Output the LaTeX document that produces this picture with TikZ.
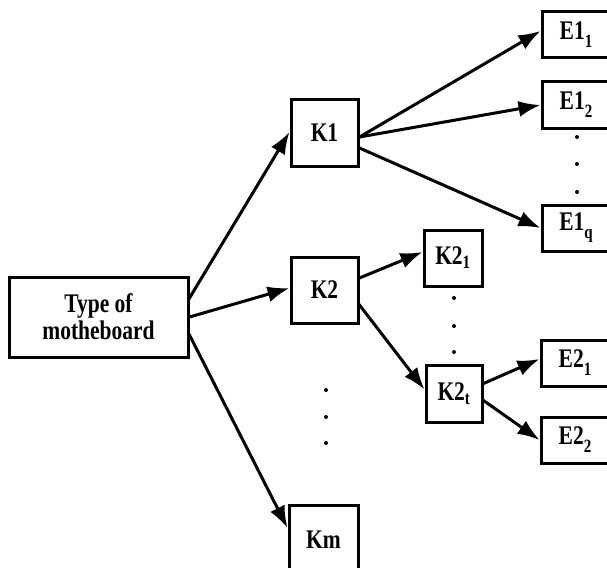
\documentclass[tikz,border=0pt]{standalone}
\usepackage{fontspec}
\usepackage{graphicx}
\setmainfont{Liberation Serif}
\usetikzlibrary{arrows.meta}
\newcommand\vtx[1]{\scalebox{1}[1.25]{#1}}
\newcommand\esub[1]{\raisebox{-0.3em}{\fontsize{15}{15}\selectfont #1}}
\begin{document}
\begin{tikzpicture}[x=1pt,y=1pt,
  box/.style={draw=black,line width=3pt,fill=white,inner sep=0pt,font=\bfseries\fontsize{21.5}{27}\selectfont,align=center},
  kbox/.style={box,minimum width=67pt,minimum height=66pt},
  ebox/.style={box,minimum width=68pt,minimum height=46pt},
  arr/.style={line width=3pt,-{Latex[length=22pt,width=16pt]},shorten <=-1pt},
  dot/.style={circle,fill=black,inner sep=0pt,minimum size=4pt}]
\clip (0,0) rectangle (607,-567);
\fill[white] (0,0) rectangle (607,-567);
\node[box,minimum width=179pt,minimum height=80pt] (type) at (98.5,-317) {\vtx{Type of}\\\vtx{motheboard}};
\node[kbox] (K1) at (324.5,-133) {\vtx{K1}};
\node[kbox] (K2) at (324.5,-290) {\vtx{K2}};
\node[kbox,minimum width=69pt,minimum height=70pt] (Km) at (323.5,-540) {\vtx{Km}};
\node[box,minimum width=58pt,minimum height=56pt] (K21) at (453,-258) {\vtx{K2\textsubscript{1}}};
\node[box,minimum width=56pt,minimum height=57pt] (K2t) at (454,-393.5) {\vtx{K2\textsubscript{t}}};
\node[ebox] (E11) at (576,-35) {\vtx{E1\esub{1}}};
\node[ebox] (E12) at (576,-105) {\vtx{E1\esub{2}}};
\node[ebox] (E1q) at (576,-228) {\vtx{E1\esub{q}}};
\node[ebox] (E21) at (575,-363) {\vtx{E2\esub{1}}};
\node[ebox] (E22) at (575,-440) {\vtx{E2\esub{2}}};
\foreach \y [count=\i] in {137,164,192} \node[dot] (da\i) at (577,-\y) {};
\foreach \y [count=\i] in {298,326,352} \node[dot] (db\i) at (454,-\y) {};
\foreach \y [count=\i] in {390,417,443} \node[dot] (dc\i) at (326,-\y) {};
\draw[arr] ([yshift=19pt]type.east) -- ([yshift=1pt]K1.west);
\draw[arr] (type.east) -- ([yshift=2pt]K2.west);
\draw[arr] ([yshift=-18pt]type.east) -- ([yshift=12pt]Km.west);
\draw[arr] ([yshift=-4pt]K1.east) -- ([yshift=4pt]E11.west);
\draw[arr] ([yshift=-4pt]K1.east) -- (E12.west);
\draw[arr] ([yshift=-15pt]K1.east) -- (E1q.west);
\draw[arr] ([yshift=12pt]K2.east) -- ([yshift=6pt]K21.west);
\draw[arr] ([yshift=-15pt]K2.east) -- ([yshift=4pt]K2t.west);
\draw[arr] ([yshift=10pt]K2t.east) -- ([yshift=4pt]E21.west);
\draw[arr] ([yshift=-7pt]K2t.east) -- (E22.west);
\end{tikzpicture}
\end{document}
